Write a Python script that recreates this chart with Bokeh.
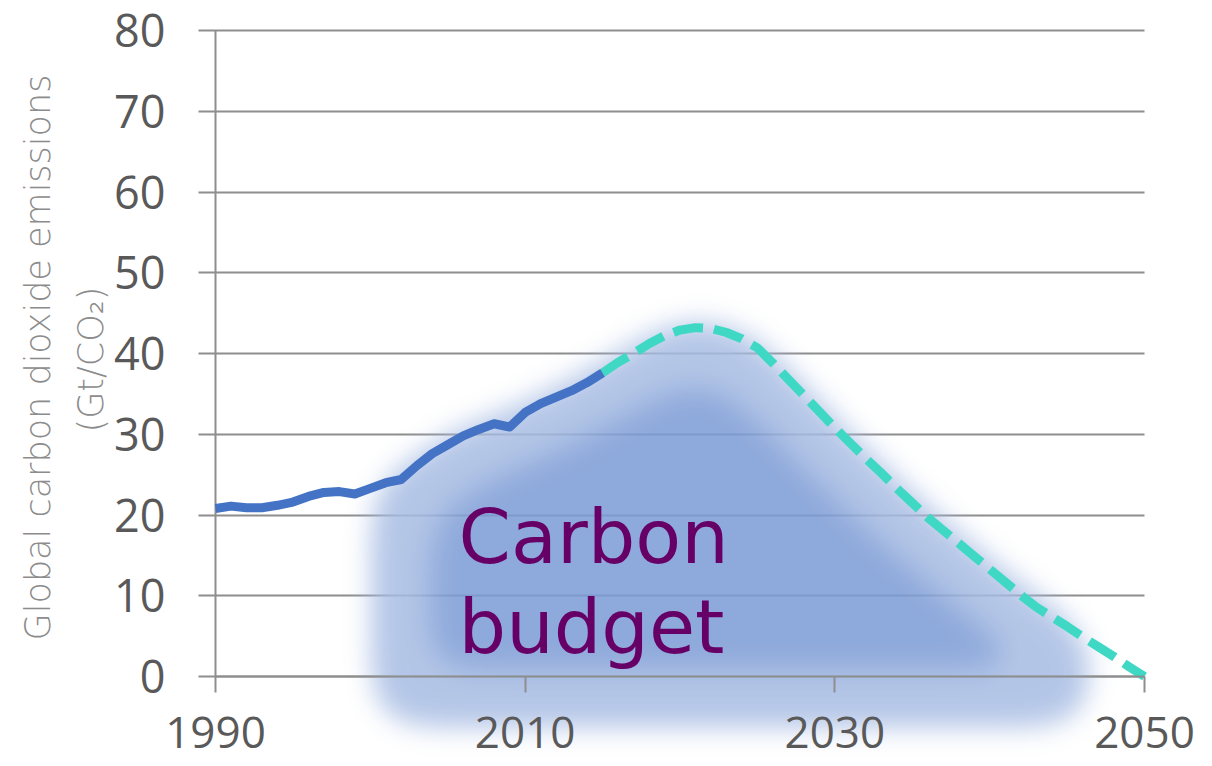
import numpy as np
from bokeh.plotting import figure
from bokeh.models import FixedTicker, Label
from bokeh.embed import file_html
from bokeh.resources import INLINE

# ---------------- data ----------------
hist_years = list(range(1990, 2016))
hist_values = [20.8, 21.1, 20.9, 20.9, 21.2, 21.6, 22.3, 22.8, 22.9, 22.6,
               23.3, 24.0, 24.4, 26.1, 27.6, 28.7, 29.8, 30.6, 31.3, 30.9,
               32.7, 33.8, 34.6, 35.4, 36.4, 37.6]

proj_years = list(range(2015, 2051))
proj_values = [37.6, 38.9, 40.0, 41.2, 42.2, 42.9, 43.2, 43.1, 42.6, 41.8,
               40.7, 38.8, 36.8, 34.8, 32.8, 30.8, 28.9, 27.0, 25.2, 23.3,
               21.5, 19.7, 18.1, 16.5, 14.9, 13.3, 11.7, 10.1, 8.6, 7.4,
               6.2, 4.9, 3.7, 2.5, 1.2, 0.0]

y_ticks = [0, 10, 20, 30, 40, 50, 60, 70, 80]
x_ticks = [1990, 2010, 2030, 2050]
y_title = "Global carbon dioxide emissions"
y_unit = "(Gt/CO\u2082)"
budget_lines = ["Carbon", "budget"]

# ---------------- layout (the plot area fills the canvas) ----------------
W, H = 1212, 766
AX_L, AX_R, AX_T, AX_B = 215, 1144, 30, 676   # canvas px of 1990, 2050, 80, 0
XA, XB = 1990, 2050
YA, YB = 0, 80
sx = (AX_R - AX_L) / (XB - XA)     # px per year
sy = (AX_B - AX_T) / (YB - YA)     # px per unit
X0 = XA - AX_L / sx
X1 = XB + (W - AX_R) / sx
Y0 = YA - (H - AX_B) / sy
Y1 = YB + AX_T / sy

# ---------------- blurred "carbon budget" blob ----------------
IX0, IY1 = 1994.0, 56.0
nx = int(round((X1 - IX0) * sx))
ny = int(round((IY1 - Y0) * sy))
xs = IX0 + (np.arange(nx) + 0.5) / sx
ys = Y0 + (np.arange(ny) + 0.5) / sy
all_years = hist_years[:-1] + proj_years
all_values = hist_values[:-1] + proj_values
curve = np.interp(xs, all_years, all_values)
XX, YY = np.meshgrid(xs, ys)
mask = ((XX >= 2000.1) & (XX <= 2046.6) & (YY >= -6.3)
        & (YY <= curve[None, :] + 1.3)).astype(float)


def blur(a, s):
    r = int(3 * s)
    k = np.exp(-0.5 * (np.arange(-r, r + 1) / s) ** 2)
    k /= k.sum()
    a = np.apply_along_axis(lambda v: np.convolve(v, k, mode="same"), 1, a)
    a = np.apply_along_axis(lambda v: np.convolve(v, k, mode="same"), 0, a)
    return a


rounded = (blur(mask, 30) > 0.5).astype(float)
a_o = np.clip(blur(rounded, 13), 0, 1)
inner = (blur(rounded, 34) > 0.96).astype(float)
a_i = np.clip(blur(inner, 14), 0, 1)

AMAX = 0.86
light = np.array([180, 198, 231], float)
dark = np.array([142, 169, 219], float)
light_c = 255 - (255 - light) / AMAX
dark_c = 255 - (255 - dark) / AMAX
col = light_c[None, None, :] * (1 - a_i[..., None]) + dark_c[None, None, :] * a_i[..., None]
rgba = np.zeros((ny, nx, 4), dtype=np.uint8)
rgba[..., :3] = np.clip(col, 0, 255).astype(np.uint8)
rgba[..., 3] = np.clip(a_o * AMAX * 255, 0, 255).astype(np.uint8)
img = rgba.view(dtype=np.uint32).reshape(ny, nx)

# ---------------- figure ----------------
p = figure(width=W, height=H, x_range=(X0, X1), y_range=(Y0, Y1), title=None,
           output_backend="svg", toolbar_location=None,
           min_border_left=0, min_border_right=0,
           min_border_top=0, min_border_bottom=0)
p.outline_line_color = None
p.background_fill_color = "white"
p.border_fill_color = "white"
p.grid.visible = False

p.image_rgba(image=[img], x=IX0, y=Y0, dw=nx / sx, dh=ny / sy)

p.line(proj_years, proj_values, line_color="#3fd8c4", line_width=9,
       line_dash="30 11")
p.line(hist_years, hist_values, line_color="#4472c4", line_width=9,
       line_join="round")

grey = "#8e8e8e"
tick_font = "Open Sans"

# y axis: its inward ticks double as the horizontal gridlines
ya = p.yaxis[0]
ya.fixed_location = XA
ya.level = "underlay"
ya.ticker = FixedTicker(ticks=y_ticks)
ya.bounds = (YA, YB)
ya.axis_line_color = grey
ya.axis_line_width = 2
ya.major_tick_line_color = grey
ya.major_tick_line_width = 2
ya.major_tick_in = AX_R - AX_L
ya.major_tick_out = 17
ya.minor_tick_line_color = None
ya.major_label_text_font = tick_font
ya.major_label_text_font_size = "45px"
ya.major_label_text_color = "#595959"
ya.major_label_standoff = 33

xa = p.xaxis[0]
xa.fixed_location = YA
xa.ticker = FixedTicker(ticks=x_ticks)
xa.bounds = (XA, XB)
xa.axis_line_color = grey
xa.axis_line_width = 2
xa.major_tick_line_color = grey
xa.major_tick_line_width = 2
xa.major_tick_in = 0
xa.major_tick_out = 16
xa.minor_tick_line_color = None
xa.major_label_text_font = tick_font
xa.major_label_text_font_size = "44px"
xa.major_label_text_color = "#595959"
xa.major_label_standoff = 24

# axis title (two lines, rotated)
title_font = "'DejaVu Sans Light', 'DejaVu Sans', sans-serif"
p.add_layout(Label(x=37, y=H - 357, x_units="screen", y_units="screen",
                   text=y_title, angle=np.pi / 2, text_align="center",
                   text_baseline="middle", text_font=title_font,
                   text_font_size="35px", text_color="#8c8c8c"))
p.add_layout(Label(x=90, y=H - 359, x_units="screen", y_units="screen",
                   text=y_unit, angle=np.pi / 2, text_align="center",
                   text_baseline="middle", text_font=title_font,
                   text_font_size="35px", text_color="#8c8c8c"))

# carbon budget text
p.add_layout(Label(x=2005.7, y=17.3, text=budget_lines[0], text_font="DejaVu Sans",
                   text_font_size="75px", text_color="#660066",
                   text_baseline="alphabetic"))
p.add_layout(Label(x=2005.7, y=6.15, text=budget_lines[1], text_font="DejaVu Sans",
                   text_font_size="75px", text_color="#660066",
                   text_baseline="alphabetic"))

open("out.html", "w").write(file_html(p, INLINE))
